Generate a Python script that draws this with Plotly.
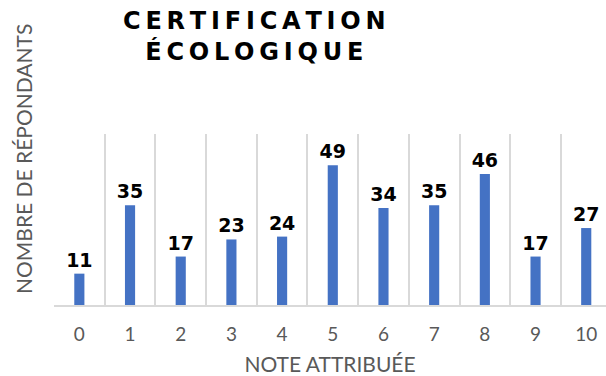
import plotly.graph_objects as go

notes = [0, 1, 2, 3, 4, 5, 6, 7, 8, 9, 10]
repondants = [11, 35, 17, 23, 24, 49, 34, 35, 46, 17, 27]
tick_labels = [str(n) for n in notes]

W, H = 606, 376
L, R, T, B = 54, 0, 134, 71

fig = go.Figure(go.Bar(
    x=notes, y=repondants, width=0.2,
    marker=dict(color="#4472C4", line=dict(width=0)),
    text=[str(v) for v in repondants], textposition="outside", constraintext="none",
    textfont=dict(family="DejaVu Sans", size=19, color="#000000", weight="bold"),
    cliponaxis=False,
))

spaced = lambda s: "\u2009".join(s)
fig.add_annotation(
    text=spaced("CERTIFICATION") + "<br>" + spaced("ÉCOLOGIQUE"),
    xref="paper", yref="paper", x=(254 - L) / (W - L - R), y=1 + (T - 5) / (H - T - B),
    xanchor="center", yanchor="top", showarrow=False,
    font=dict(family="DejaVu Sans", size=24, color="#000000", weight="bold"),
)
fig.add_annotation(
    text="NOMBRE DE RÉPONDANTS", textangle=-90,
    xref="paper", yref="paper", x=(23 - L) / (W - L - R), y=(H - B - 159) / (H - T - B),
    xanchor="center", yanchor="middle", showarrow=False,
    font=dict(family="Lato", size=21, color="#595959"),
)

fig.update_layout(
    width=W, height=H, margin=dict(l=L, r=R, t=T, b=B),
    paper_bgcolor="white", plot_bgcolor="white", showlegend=False,
    xaxis=dict(
        range=[-0.5, 10.39], tickvals=notes, ticktext=tick_labels,
        showgrid=False, zeroline=False, showline=True, linecolor="#d9d9d9", linewidth=1.5,
        ticks="", ticklabelstandoff=11,
        tickfont=dict(family="Lato", size=19, color="#595959"),
        minor=dict(tick0=0.5, dtick=1, showgrid=True, gridcolor="#d9d9d9", gridwidth=1.5),
        title=dict(text="NOTE ATTRIBUÉE", standoff=14,
                   font=dict(family="Lato", size=21, color="#595959")),
    ),
    yaxis=dict(range=[0, 60], visible=False, showgrid=False, zeroline=False),
)

fig.write_html("out.html")
